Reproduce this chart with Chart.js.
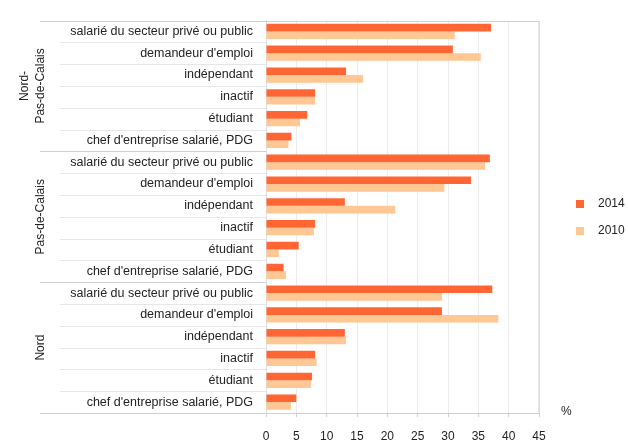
<!DOCTYPE html>
<html>
<head>
<meta charset="utf-8">
<script src="https://cdn.jsdelivr.net/npm/chart.js@4.4.1/dist/chart.umd.min.js"></script>
<style>
  html, body { margin: 0; padding: 0; background: #fff; }
  #wrap { width: 628px; height: 441px; }
</style>
</head>
<body>
<div id="wrap"><canvas id="jobChart" width="628" height="441"></canvas></div>
<script>
  const groups = ['Nord-Pas-de-Calais', 'Pas-de-Calais', 'Nord'];
  const categories = [
    'salarié du secteur privé ou public',
    "demandeur d'emploi",
    'indépendant',
    'inactif',
    'étudiant',
    "chef d'entreprise salarié, PDG"
  ];
  // values per group, same order as categories
  const values2014 = [
    [37.1, 30.8, 13.2, 8.1, 6.8, 4.2],
    [36.9, 33.8, 13.0, 8.1, 5.4, 2.9],
    [37.3, 29.0, 13.0, 8.1, 7.6, 5.0]
  ];
  const values2010 = [
    [31.1, 35.4, 16.0, 8.1, 5.6, 3.7],
    [36.1, 29.4, 21.3, 7.9, 2.1, 3.3],
    [29.0, 38.3, 13.2, 8.35, 7.4, 4.1]
  ];
  const xTicks = [0, 5, 10, 15, 20, 25, 30, 35, 40, 45];

  const fontFamily = '"Liberation Sans", Arial, sans-serif';
  const labels = [];
  groups.forEach(function() { categories.forEach(function(c) { labels.push(c); }); });

  const decorPlugin = {
    id: 'decor',
    afterDraw: function(chart) {
      const ctx = chart.ctx;
      const area = chart.chartArea;
      const y = chart.scales.y;
      const n = labels.length;
      const per = categories.length;
      ctx.save();
      ctx.lineWidth = 1;

      // row separators in the label area
      for (let i = 0; i < n - 1; i++) {
        const yy = Math.round((y.getPixelForValue(i) + y.getPixelForValue(i + 1)) / 2) + 0.5;
        const groupEnd = (i + 1) % per === 0;
        ctx.strokeStyle = groupEnd ? '#cfcfcf' : '#e6e6e6';
        ctx.beginPath();
        ctx.moveTo(groupEnd ? 40 : 60, yy);
        ctx.lineTo(area.left, yy);
        ctx.stroke();
      }
      // top, bottom and right border
      ctx.strokeStyle = '#d0d0d0';
      ctx.beginPath();
      ctx.moveTo(40, Math.round(area.top) + 0.5);
      ctx.lineTo(area.right, Math.round(area.top) + 0.5);
      ctx.lineTo(area.right, area.bottom);
      ctx.moveTo(40, Math.round(area.bottom) + 0.5);
      ctx.lineTo(area.right, Math.round(area.bottom) + 0.5);
      ctx.stroke();

      // group labels, rotated
      ctx.fillStyle = '#222';
      ctx.font = '12px ' + fontFamily;
      ctx.textAlign = 'center';
      ctx.textBaseline = 'middle';
      groups.forEach(function(g, gi) {
        const cy = (y.getPixelForValue(gi * per) + y.getPixelForValue(gi * per + per - 1)) / 2;
        ctx.save();
        ctx.translate(41, cy);
        ctx.rotate(-Math.PI / 2);
        if (g === 'Nord-Pas-de-Calais') {
          ctx.fillText('Nord-', 0, -16);
          ctx.fillText('Pas-de-Calais', 0, 0);
        } else {
          ctx.fillText(g, 0, 0);
        }
        ctx.restore();
      });

      // unit label
      ctx.font = '12px ' + fontFamily;
      ctx.textAlign = 'left';
      ctx.fillText('%', 561, 412);

      // legend
      chart.data.datasets.forEach(function(ds, i) {
        const ly = 204 + i * 27;
        ctx.fillStyle = ds.backgroundColor;
        ctx.fillRect(576, ly - 4, 8, 8);
        ctx.fillStyle = '#222';
        ctx.fillText(ds.label, 598, ly);
      });
      ctx.restore();
    }
  };

  const config = {
    type: 'bar',
    data: {
      labels: labels,
      datasets: [
        { label: '2014', data: values2014.flat(), backgroundColor: '#ff6633' },
        { label: '2010', data: values2010.flat(), backgroundColor: '#ffc794' }
      ]
    },
    options: {
      indexAxis: 'y',
      responsive: false,
      animation: false,
      layout: { padding: { top: 16, right: 89, left: 0, bottom: 0 } },
      datasets: { bar: { categoryPercentage: 0.7, barPercentage: 1 } },
      scales: {
        x: {
          min: 0,
          max: 45,
          afterBuildTicks: function(scale) { scale.ticks = xTicks.map(function(v) { return { value: v }; }); },
          afterFit: function(scale) { scale.height = 28; },
          border: { display: false },
          grid: { color: '#ececec', tickLength: 4, tickColor: '#d0d0d0' },
          ticks: { padding: 12, color: '#222', font: { size: 12, family: fontFamily } }
        },
        y: {
          afterFit: function(scale) { scale.width = 266; },
          border: { display: true, color: '#dedede' },
          grid: { display: false, drawTicks: false },
          ticks: { padding: 13, color: '#222', autoSkip: false, font: { size: 12.5, family: fontFamily } }
        }
      },
      plugins: {
        legend: { display: false },
        tooltip: { enabled: false }
      }
    },
    plugins: [decorPlugin]
  };

  new Chart(document.getElementById('jobChart').getContext('2d'), config);
</script>
</body>
</html>
